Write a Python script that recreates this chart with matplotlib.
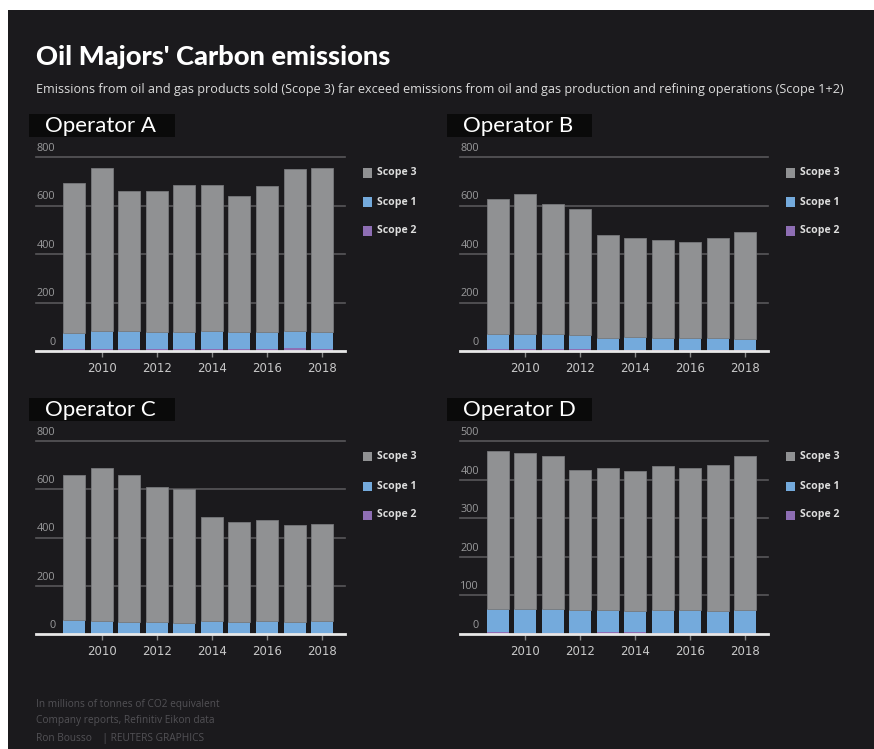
import numpy as np
import matplotlib
matplotlib.use("Agg")
import matplotlib.pyplot as plt
from matplotlib.patches import Rectangle

# data (millions of tonnes CO2e)
years = list(range(2009, 2019))
operators = ["Operator A", "Operator B", "Operator C", "Operator D"]

scope2_a = [9, 9, 9, 8, 9, 9, 8, 9, 13, 9]
scope1_a = [67, 75, 74, 71, 71, 75, 71, 70, 71, 70]
scope3_a = [615, 670, 575, 582, 603, 602, 561, 601, 666, 674]

scope2_b = [9, 9, 8, 8, 5, 5, 5, 5, 5, 5]
scope1_b = [63, 63, 61, 57, 49, 54, 50, 49, 49, 46]
scope3_b = [556, 575, 539, 520, 425, 409, 404, 397, 414, 439]

scope2_c = [2, 2, 2, 2, 2, 2, 2, 2, 2, 2]
scope1_c = [57, 52, 46, 46, 45, 53, 49, 50, 48, 53]
scope3_c = [598, 635, 609, 562, 552, 431, 412, 422, 403, 401]

scope2_d = [5, 3, 3, 2, 5, 5, 2, 2, 2, 2]
scope1_d = [60, 63, 62, 59, 56, 54, 59, 59, 57, 60]
scope3_d = [410, 404, 396, 365, 368, 364, 373, 368, 380, 400]

y_max = [800, 800, 800, 500]
y_ticks = [[0, 200, 400, 600, 800], [0, 200, 400, 600, 800],
           [0, 200, 400, 600, 800], [0, 100, 200, 300, 400, 500]]
x_ticks = [2010, 2012, 2014, 2016, 2018]
legend_labels = ["Scope 3", "Scope 1", "Scope 2"]

title = "Oil Majors' Carbon emissions"
subtitle = ("Emissions from oil and gas products sold (Scope 3) far exceed emissions "
            "from oil and gas production and refining operations (Scope 1+2)")
footer = ["In millions of tonnes of CO2 equivalent",
          "Company reports, Refinitiv Eikon data",
          "Ron Bousso    | REUTERS GRAPHICS"]

BG = "#1b1a1d"
C3 = "#909193"
C1 = "#74aadc"
C2 = "#8e6eb4"
GRID = "#58575a"

W, H = 874, 749
fig = plt.figure(figsize=(W / 100, H / 100), dpi=100, facecolor="white")


def fx(x):
    return x / W


def fy(y):
    return 1 - y / H


# dark panel (white margin at top and left like the screenshot)
fig.patches.append(Rectangle((fx(8), 0), 1 - fx(8), fy(10), transform=fig.transFigure,
                             facecolor=BG, edgecolor="none", zorder=-10))

fig.text(fx(36), fy(57), title, fontsize=19.6, fontweight="black", family="Lato",
         color="white", va="center", ha="left")
fig.text(fx(36), fy(89), subtitle, fontsize=9.1, family="Open Sans", color="#dcdcdc",
         va="center", ha="left")

for i, line in enumerate(footer):
    fig.text(fx(36), fy(704 + 17 * i), line, fontsize=7.3, family="Open Sans",
             color="#525155", va="center", ha="left")

series = [(scope2_a, scope1_a, scope3_a), (scope2_b, scope1_b, scope3_b),
          (scope2_c, scope1_c, scope3_c), (scope2_d, scope1_d, scope3_d)]

# pixel boxes: (left, right, top, bottom)
boxes = [(36, 345, 157, 351), (460, 768, 157, 351),
         (36, 345, 441, 634), (460, 768, 441, 634)]
label_boxes = [(29, 175, 114, 137), (447, 592, 114, 137),
               (29, 175, 398, 421), (447, 592, 398, 421)]

for k in range(4):
    l, r, t, b = boxes[k]
    ax = fig.add_axes([fx(l), fy(b), fx(r - l), (b - t) / H])
    ax.set_facecolor("none")
    s2, s1, s3 = [np.array(v) for v in series[k]]
    x = np.array(years)
    ax.bar(x, s2, width=0.8, color=C2, zorder=2)
    ax.bar(x, s1, width=0.8, bottom=s2, color=C1, zorder=2)
    ax.bar(x, s3, width=0.8, bottom=s2 + s1, color=C3, edgecolor="#77787b",
           linewidth=0.6, zorder=2)
    ax.set_xlim(2007.62, 2018.83)
    ax.set_ylim(0, y_max[k])

    for v in y_ticks[k][1:]:
        ax.axhline(v, color=GRID, linewidth=1.2, zorder=1, clip_on=False)
    ax.axhline(0, color="#e8e8e8", linewidth=2, zorder=3, clip_on=False)
    for v in y_ticks[k]:
        ax.text(0.062, v + y_max[k] * 0.016, str(v), transform=ax.get_yaxis_transform(),
                ha="right", va="bottom", fontsize=7.8, color="#9a9a9c", family="Open Sans")

    for sp in ax.spines.values():
        sp.set_visible(False)
    ax.set_yticks([])
    ax.set_xticks(x_ticks)
    ax.set_xticklabels([str(v) for v in x_ticks])
    ax.tick_params(axis="x", colors="#8a8a8a", length=4, width=1, pad=4,
                   labelsize=8.5, labelcolor="#c8c8c8")

    # title box
    bl, br, bt, bb = label_boxes[k]
    fig.patches.append(Rectangle((fx(bl), fy(bb)), fx(br - bl), (bb - bt) / H,
                                 transform=fig.transFigure, facecolor="#0a0a0a",
                                 edgecolor="none", zorder=1))
    fig.text(fx(bl + 16), fy((bt + bb) / 2 + 1), operators[k], fontsize=16,
             family="Lato", color="white", va="center", ha="left")

    # legend
    lx = r + 18
    ly0 = t + 16
    for j, (lab, col) in enumerate(zip(legend_labels, [C3, C1, C2])):
        yy = ly0 + 29 * j
        fig.patches.append(Rectangle((fx(lx), fy(yy + 4.5)), fx(9), 9 / H,
                                     transform=fig.transFigure, facecolor=col,
                                     edgecolor="none"))
        fig.text(fx(lx + 14), fy(yy), lab, fontsize=7.6, fontweight="bold",
                 family="Open Sans", color="#dedede", va="center", ha="left")

fig.savefig("out.png", dpi=100, facecolor="white")
